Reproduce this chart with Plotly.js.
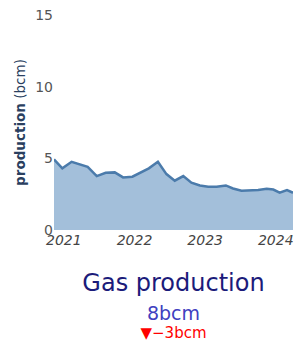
<!DOCTYPE html>
<html><head><meta charset="utf-8">
<script src="https://cdn.plot.ly/plotly-3.0.1.min.js"></script>
<style>html,body{margin:0;padding:0;background:#fff}#chart{width:294px;height:343px}</style>
</head><body><div id="chart"></div>
<script>
var dates = ['2020-11-11','2020-12-24','2021-02-10','2021-03-22','2021-05-04','2021-06-20','2021-08-05','2021-09-21','2021-11-03','2021-12-21','2022-02-02','2022-03-16','2022-05-02','2022-06-15','2022-07-28','2022-09-10','2022-10-22','2022-12-05','2023-01-17','2023-03-01','2023-04-18','2023-05-25','2023-07-08','2023-08-20','2023-10-02','2023-11-15','2023-12-19','2024-01-21','2024-02-28','2024-03-30'];
var production = [4.93,4.3,4.76,4.58,4.41,3.76,3.99,4.02,3.67,3.72,4.02,4.3,4.76,3.9,3.44,3.76,3.3,3.11,3.02,3.02,3.11,2.9,2.74,2.74,2.79,2.88,2.82,2.6,2.79,2.6];
var currentValue = 8;
var referenceValue = 11;
var yTicks = [0,5,10,15];

var font = 'Verdana, "DejaVu Sans", sans-serif';
var data = [
  {type:'scatter', mode:'lines', x:dates, y:production, fill:'tozeroy',
   line:{color:'#4b7bab', width:2.5}, fillcolor:'#a3bfda', hoverinfo:'skip'},
  {type:'indicator', mode:'number+delta', value:currentValue,
   title:{text:'Gas production', font:{size:24, color:'#1b1b7a'}},
   number:{suffix:'bcm', font:{size:19, color:'#4040bf'}},
   delta:{reference:referenceValue, position:'bottom', suffix:'bcm', relative:false,
          font:{size:15}, decreasing:{color:'#ff0000'}},
   domain:{x:[0,1], y:[0,0.13]}}
];
var layout = {
  width:294, height:343,
  margin:{l:54, r:1, t:15, b:0},
  paper_bgcolor:'#fff', plot_bgcolor:'#fff',
  font:{family:font},
  showlegend:false,
  xaxis:{type:'date', range:[dates[0], dates[dates.length-1]], showgrid:false, zeroline:false,
         showline:false, ticks:'', dtick:'M12', tick0:'2021-01-01', tickformat:'%Y',
         tickfont:{size:14, style:'italic', color:'#444'}, domain:[0,1]},
  yaxis:{range:[0,15], tickvals:yTicks, showgrid:false, zeroline:false, showline:false, ticks:'',
         tickfont:{size:14, color:'#555'}, domain:[0.3445,1],
         title:{text:'<b>production</b> (bcm)', font:{size:13.5, color:'#2a3f5f'}, standoff:6}}
};
Plotly.newPlot('chart', data, layout, {displayModeBar:false, staticPlot:true});
</script></body></html>
